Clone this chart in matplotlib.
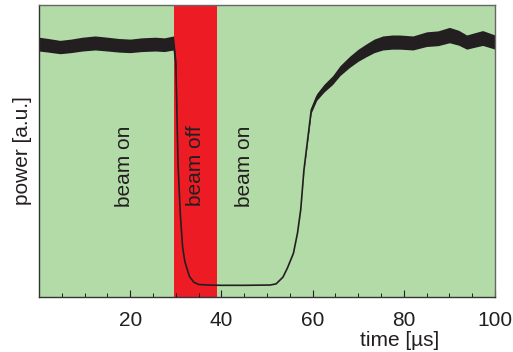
import numpy as np
import matplotlib.pyplot as plt
from matplotlib.ticker import MultipleLocator

plt.rcParams['font.family'] = ['Liberation Sans', 'DejaVu Sans']

time_us = [0, 2, 4.6, 7, 9.5, 12.3, 15, 17.5, 20, 22.5, 25.5, 27.5, 29.5,
           30.0, 30.5, 31.0, 31.5, 32.0, 33.0, 34.0, 35.0, 37.0, 40.0, 45.0,
           50.7, 52.0, 53.5, 54.5, 55.8, 56.7, 57.4, 58.1, 59.0, 59.7, 60.9,
           62.5, 64.4, 66.0, 68.1, 70.0, 71.9, 73.5, 75.4, 77.5, 79.1, 82.0,
           85.0, 87.5, 90.0, 92.0, 93.8, 95.5, 97.3, 100.0]
power = [0.866, 0.862, 0.856, 0.860, 0.866, 0.870, 0.866, 0.862, 0.860, 0.864,
         0.866, 0.864, 0.870,
         0.80, 0.45, 0.28, 0.17, 0.12, 0.07, 0.05, 0.043, 0.041, 0.040, 0.040,
         0.041, 0.045, 0.068, 0.10, 0.15, 0.22, 0.30, 0.435, 0.55, 0.64, 0.685,
         0.715, 0.743, 0.775, 0.805, 0.828, 0.846, 0.860, 0.870, 0.873, 0.873,
         0.870, 0.883, 0.886, 0.897, 0.888, 0.873, 0.880, 0.887, 0.873]

beam_off = (29.5, 39.0)
labels = [(18.7, 'beam on'), (34.3, 'beam off'), (45.1, 'beam on')]

t = np.array(time_us)
p = np.array(power)
# noise band grows with signal level
half = 0.024 * (p / 0.87) ** 3

fig = plt.figure(figsize=(5.13, 3.52), dpi=100)
ax = fig.add_axes([39 / 513, 55 / 352, 456 / 513, 292 / 352])
ax.set_facecolor('#b3dba8')
ax.axvspan(beam_off[0], beam_off[1], color='#ed1c24', lw=0)

ax.fill_between(t, p - half, p + half, color='#231f20', lw=0)
ax.plot(t, p, color='#231f20', lw=1.2)

for x, s in labels:
    ax.text(x, 0.449, s, rotation=90, ha='center', va='center', fontsize=15,
            color='#231f20')

ax.set_xlim(0, 100)
ax.set_ylim(0, 1)
ax.xaxis.set_minor_locator(MultipleLocator(5))
ax.set_xticks([20, 40, 60, 80, 100])
ax.set_yticks([])
ax.tick_params(axis='x', which='major', direction='in', length=5, labelsize=15,
               pad=10, colors='#231f20')
ax.tick_params(axis='x', which='minor', direction='in', length=3)
for s in ax.spines.values():
    s.set_color('#666666')
    s.set_linewidth(1)
ax.spines['bottom'].set_color('#333333')
ax.spines['left'].set_color('#333333')

ax.set_xlabel('time [µs]', fontsize=15, color='#231f20')
ax.xaxis.set_label_coords(0.79, -0.115)
ax.set_ylabel('power [a.u.]', fontsize=15, color='#231f20')
ax.yaxis.set_label_coords(-0.015, 0.5)

fig.savefig('out.png')
